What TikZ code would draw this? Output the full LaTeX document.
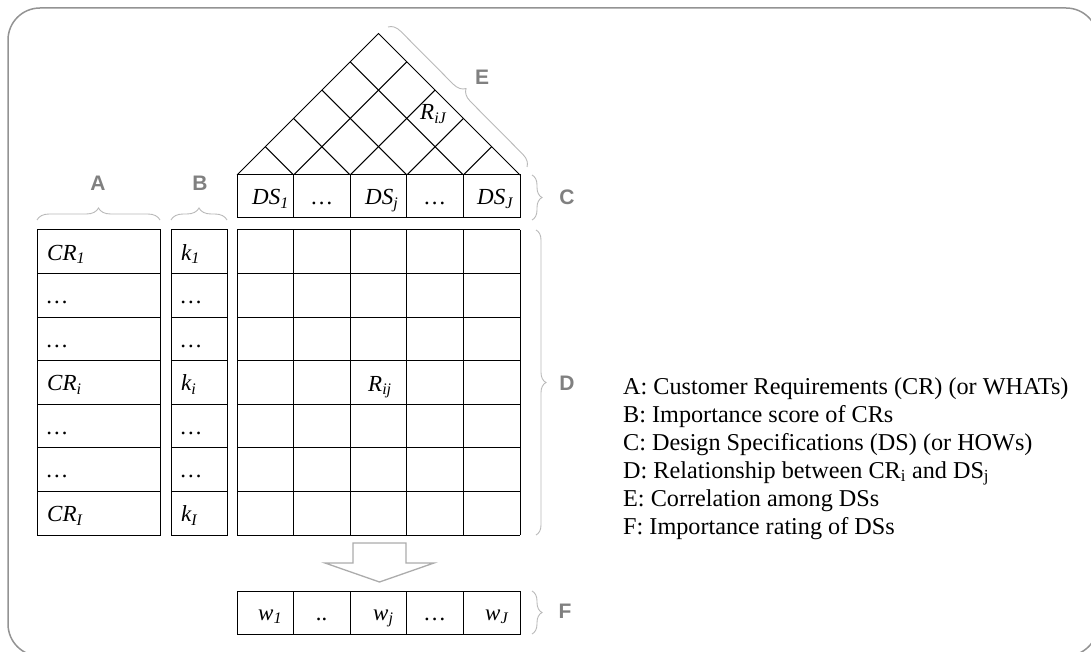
\documentclass[tikz,border=0pt]{standalone}
\usepackage{fontspec}
\setmainfont{Liberation Serif}
\newfontfamily\lblfont{Liberation Sans}
\usetikzlibrary{decorations.pathreplacing}
\newcommand\sbx[1]{\textsubscript{#1}}
\begin{document}
\begin{tikzpicture}[x=1pt,y=-1pt,
  grid/.style={line width=1.0pt, draw=black},
  brc/.style={draw=gray!55, line width=0.9pt, decorate, decoration={brace, amplitude=#1}},
  brc/.default=10pt,
  lbl/.style={font=\lblfont\bfseries\fontsize{21}{21}\selectfont, text=gray, inner sep=0pt},
  cell/.style={font=\itshape\fontsize{23}{23}\selectfont, inner sep=0pt, anchor=base west},
  cellc/.style={font=\itshape\fontsize{23}{23}\selectfont, inner sep=0pt, anchor=base},
  leg/.style={font=\fontsize{24.2}{24.2}\selectfont, inner sep=0pt, anchor=base west}]
\useasboundingbox (0,0) rectangle (1091,652);
% outer frame
\draw[rounded corners=32pt, draw=gray!85, line width=1.5pt] (8,8) rectangle (1098,656);
% main matrix D
\foreach \i in {0,...,5} \draw[grid] ({237+56.6*\i},230) -- ({237+56.6*\i},535);
\foreach \j in {0,...,7} \draw[grid] (237,{230+43.571*\j}) -- (520,{230+43.571*\j});
% A column
\draw[grid] (37,230) rectangle (160,535);
\foreach \j in {1,...,6} \draw[grid] (37,{230+43.571*\j}) -- (160,{230+43.571*\j});
% B column
\draw[grid] (171,230) rectangle (227,535);
\foreach \j in {1,...,6} \draw[grid] (171,{230+43.571*\j}) -- (227,{230+43.571*\j});
% C row
\draw[grid] (237,175) rectangle (520,218);
\foreach \i in {1,...,4} \draw[grid] ({237+56.6*\i},175) -- ({237+56.6*\i},218);
% F row
\draw[grid] (237,591) rectangle (520,634);
\foreach \i in {1,...,4} \draw[grid] ({237+56.6*\i},591) -- ({237+56.6*\i},634);
% roof
\draw[grid] (237,175) -- (378.5,33.5) -- (520,175);
\begin{scope}
  \clip (237,175) -- (378.5,33.5) -- (520,175) -- cycle;
  \foreach \i in {1,...,4} {
    \draw[grid] ({237+56.6*\i},175) -- ++(200,-200);
    \draw[grid] ({237+56.6*\i},175) -- ++(-200,-200);
  }
\end{scope}
% block arrow
\draw[draw=gray!65, line width=1.3pt, fill=white, line join=miter]
  (353,543) -- (406,543) -- (406,563) -- (434,563) -- (379.5,582) -- (325,563) -- (353,563) -- cycle;
% braces
\draw[brc=12pt] (37,220) -- (160,220);
\draw[brc=12pt] (171,220) -- (227,220);
\draw[brc] (532,175) -- (532,220);
\draw[brc] (536,230) -- (536,535);
\draw[brc=12pt] (388,27) -- (527,167);
\draw[brc] (532,591) -- (532,634);
% brace labels
\node[lbl] (labA) at (98,183) {A};
\node[lbl] (labB) at (200,183) {B};
\node[lbl] (labC) at (567,197) {C};
\node[lbl] (labD) at (567,383) {D};
\node[lbl] (labE) at (482,77) {E};
\node[lbl] (labF) at (565,611) {F};
% A column texts
\node[cell] (cr1) at (47,260) {CR\sbx{1}};
\node[cell] (cr2) at (47,{260+43.571}) {\ldots};
\node[cell] (cr3) at (47,{260+2*43.571}) {\ldots};
\node[cell] (cri) at (47,{260+3*43.571}) {CR\sbx{i}};
\node[cell] (cr5) at (47,{260+4*43.571}) {\ldots};
\node[cell] (cr6) at (47,{260+5*43.571}) {\ldots};
\node[cell] (crI) at (47,{260+6*43.571}) {CR\sbx{I}};
% B column texts
\node[cell] (k1) at (181,260) {k\sbx{1}};
\node[cell] (k2) at (181,{260+43.571}) {\ldots};
\node[cell] (k3) at (181,{260+2*43.571}) {\ldots};
\node[cell] (ki) at (181,{260+3*43.571}) {k\sbx{i}};
\node[cell] (k5) at (181,{260+4*43.571}) {\ldots};
\node[cell] (k6) at (181,{260+5*43.571}) {\ldots};
\node[cell] (kI) at (181,{260+6*43.571}) {k\sbx{I}};
% C row texts
\node[cell] (ds1) at (252,205) {DS\sbx{1}};
\node[cellc] (ds2) at (322,205) {\ldots};
\node[cell] (dsj) at (365,205) {DS\sbx{j}};
\node[cellc] (ds4) at (435,205) {\ldots};
\node[cell] (dsJ) at (477,205) {DS\sbx{J}};
% F row texts
\node[cell] (w1) at (258,620) {w\sbx{1}};
\node[cellc] (w2) at (322,620) {..};
\node[cell] (wj) at (373,620) {w\sbx{j}};
\node[cellc] (w4) at (435,620) {\ldots};
\node[cell] (wJ) at (485,620) {w\sbx{J}};
% relationship entries
\node[cell] (rij) at (368,391) {R\sbx{ij}};
\node[cell] (riJ) at (420,120) {R\sbx{iJ}};
% legend
\node[leg] (legA) at (623,394) {A: Customer Requirements (CR) (or WHATs)};
\node[leg] (legB) at (623,422) {B: Importance score of CRs};
\node[leg] (legC) at (623,450) {C: Design Specifications (DS) (or HOWs)};
\node[leg] (legD) at (623,478) {D: Relationship between CR\textsubscript{i} and DS\textsubscript{j}};
\node[leg] (legE) at (623,506) {E: Correlation among DSs};
\node[leg] (legF) at (623,534) {F: Importance rating of DSs};
\end{tikzpicture}
\end{document}
